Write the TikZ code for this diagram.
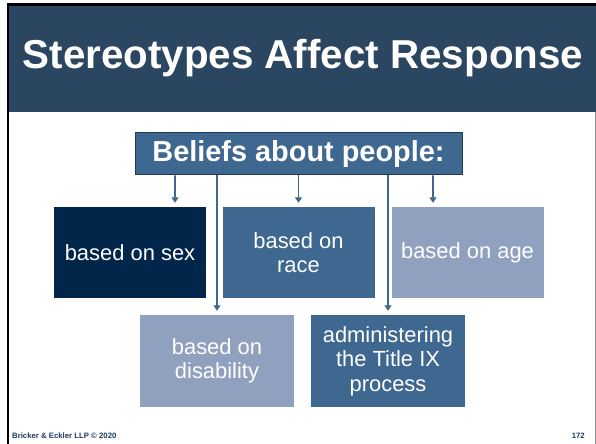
\documentclass[tikz,border=0pt]{standalone}
\usepackage{fontspec}
\setmainfont{Liberation Sans}
\usepackage{tikz}
\usetikzlibrary{arrows.meta, positioning, calc}
\definecolor{slidenavy}{HTML}{2B4660}
\definecolor{deepnavy}{HTML}{02264A}
\definecolor{midblue}{HTML}{3F6890}
\definecolor{paleblue}{HTML}{8FA1BE}
\definecolor{edgeblue}{HTML}{1F3A55}
\definecolor{footblue}{HTML}{1F3A5F}

\begin{document}
\begin{tikzpicture}[
    x=1bp, y=-1bp,
    tile/.style={inner sep=0pt, align=center, text=white,
                 font=\fontsize{22}{24.5}\selectfont,
                 minimum width=152bp, minimum height=91bp},
    arr/.style={-{Triangle[width=7bp, length=5.5bp]}, line width=1.8bp,
                midblue, shorten >=4bp}
  ]
    \useasboundingbox (0,0) rectangle (596,444);
    % slide frame and header
    \fill[black] (7,3) rectangle (596,444);
    \fill[white] (9,6) rectangle (594.5,444);
    \fill[black!45] (594.5,112) rectangle (596,444);
    \fill[slidenavy] (9,6) rectangle (596,112);
    \node[text=white, font=\bfseries\fontsize{40.5}{44}\selectfont]
      (title) at (303,58) {Stereotypes Affect Response};

    \node[draw=edgeblue, line width=1bp, fill=midblue, text=white,
          minimum width=327bp, minimum height=42bp, inner sep=0pt,
          font=\bfseries\fontsize{29}{32}\selectfont]
      (beliefs) at (298.5,154) {Beliefs about people:};

    \node[tile, fill=deepnavy] (sex) at (130,252.5) {based on sex};
    \node[tile, fill=midblue] (race) at (298.5,252.5) {based on\\race};
    \node[tile, fill=paleblue] (age) at (467.5,252.5) {based on age};
    \node[tile, fill=paleblue, minimum width=154bp, minimum height=92bp]
      (disab) at (217,361) {based on\\disability};
    \node[tile, fill=midblue, minimum width=154bp, minimum height=92bp]
      (titleix) at (388,361) {administering\\the Title IX\\process};

    \draw[arr] ([xshift=-123.5bp]beliefs.south) -- ([xshift=45bp]sex.north);
    \draw[arr] (beliefs.south -| disab.north) -- (disab.north);
    \draw[arr] (beliefs.south) -- (race.north);
    \draw[arr] (beliefs.south -| titleix.north) -- (titleix.north);
    \draw[arr] ([xshift=134.5bp]beliefs.south) -- ([xshift=-34.5bp]age.north);

    % footer
    \node[anchor=base west, inner sep=0pt, text=footblue,
          font=\bfseries\fontsize{7.8}{9}\selectfont]
      (firm) at (12,438) {Bricker \& Eckler LLP © 2020};
    \node[anchor=base east, inner sep=0pt, text=footblue,
          font=\bfseries\fontsize{7.8}{9}\selectfont]
      (pageno) at (585,438) {172};
\end{tikzpicture}
\end{document}
